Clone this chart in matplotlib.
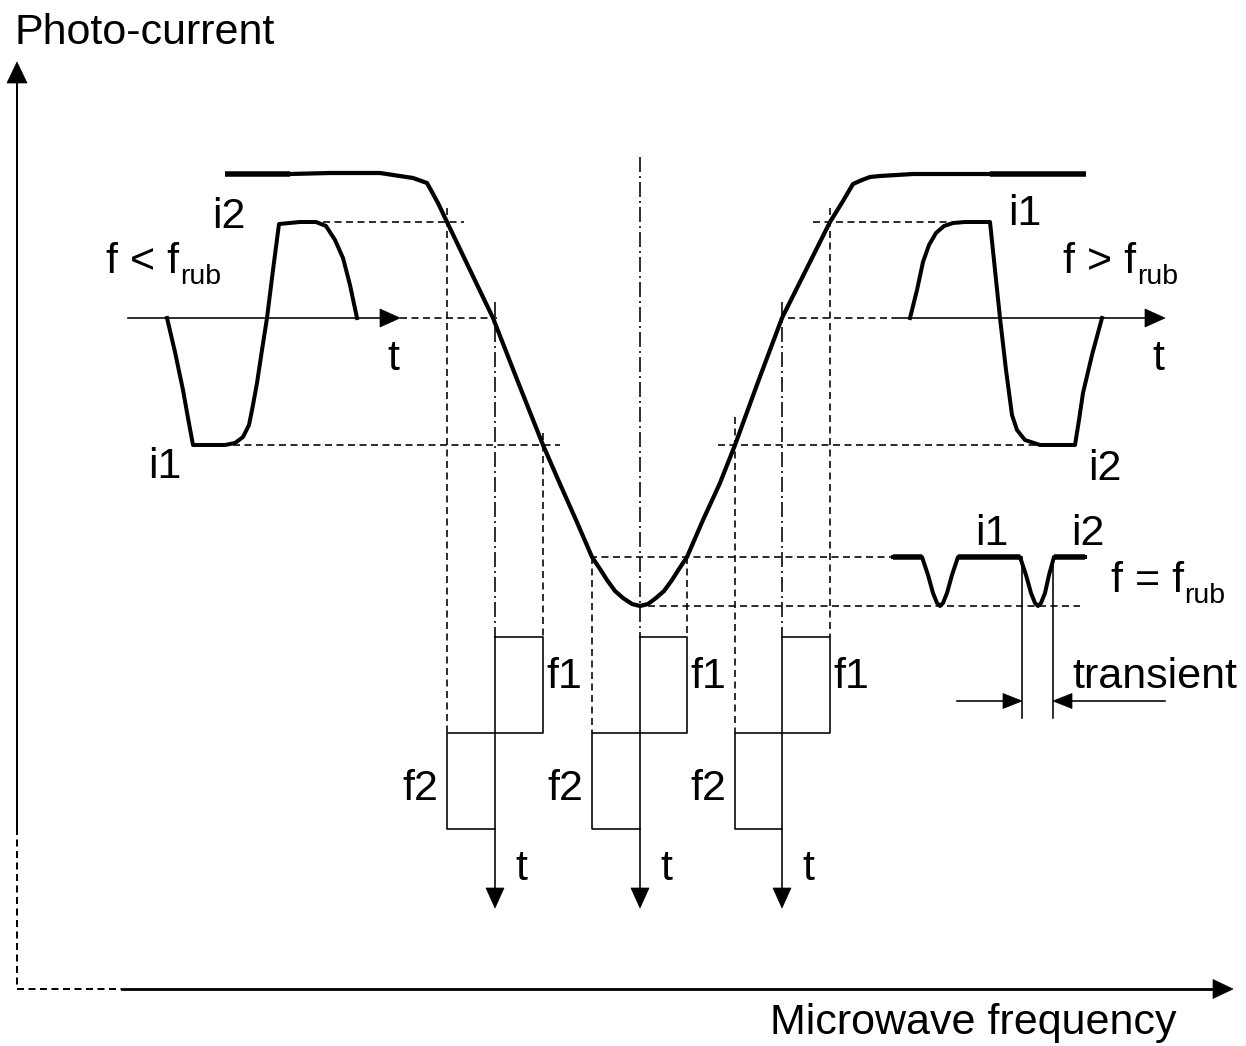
import matplotlib
matplotlib.use("Agg")
import matplotlib.pyplot as plt
from matplotlib.patches import Polygon

plt.rcParams['font.family'] = ['Liberation Sans', 'DejaVu Sans']
plt.rcParams['lines.scale_dashes'] = False

# ---------------- data (diagram units, y grows downward) ----------------
# main photo-current resonance curve
main_curve_x = [290, 330, 380, 413, 427, 438, 447, 470, 493, 518, 543, 560, 576, 592, 600, 607,
                615, 623, 632, 640, 648, 656, 664, 672, 679, 687, 703, 720, 735, 758, 782, 806,
                830, 843, 853, 862, 870, 880, 913, 990]
main_curve_y = [174, 173, 173, 178, 183, 203, 222, 270, 318, 382, 445, 484, 520, 557, 569, 580,
                591, 598, 604, 606, 604, 598, 591, 580, 569, 557, 520, 483, 445, 382, 318, 270,
                222, 201, 184, 180, 177, 176, 174, 174]
plateau_left_x = [225, 290]
plateau_right_x = [990, 1086]
plateau_y = 174

# time signal for f < f_rub
lowwave_x = [167, 175, 183, 188, 193, 225, 235, 243, 249, 253, 257, 262, 267, 273, 279,
             300, 316, 326, 335, 343, 350, 357]
lowwave_y = [318, 352, 390, 418, 445, 445, 443, 437, 425, 405, 383, 350, 318, 270, 224,
             222, 222, 226, 240, 258, 285, 318]
# time signal for f > f_rub
highwave_x = [910, 917, 923, 929, 936, 944, 953, 965, 990, 995, 1000, 1006, 1012, 1017,
              1025, 1040, 1075, 1079, 1083, 1092, 1102]
highwave_y = [318, 290, 262, 245, 233, 226, 223, 222, 222, 270, 318, 370, 415, 430,
              440, 445, 445, 420, 393, 355, 318]
# time signal for f = f_rub
eqwave_x = [893, 922, 928, 933, 937, 940, 943, 947, 952, 958, 1020, 1026, 1031, 1035, 1038,
            1041, 1045, 1049, 1054, 1085]
eqwave_y = [557, 557, 575, 593, 603, 606, 603, 593, 575, 557, 557, 575, 593, 603, 606,
            603, 593, 575, 557, 557]

# levels
level_i2 = 222
level_zero = 318
level_i1 = 445
level_plateau = 557
level_min = 606

# square-wave modulation signals
square_axis_x = [495, 640, 782]
square_low_x = [447, 592, 735]
square_high_x = [543, 687, 830]
square_top, square_mid, square_bottom, square_tip = 637, 733, 829, 908

# dashed guide lines: (x0, x1, y)
hdash = [(323, 464, level_i2), (813, 950, level_i2),
         (400, 497, level_zero), (788, 893, level_zero),
         (233, 560, level_i1), (718, 1040, level_i1),
         (590, 893, level_plateau), (648, 1080, level_min)]
# vertical dashed (x, y0, y1)
vdash = [(447, 208, 733), (543, 433, 637), (592, 557, 733), (687, 557, 637),
         (735, 417, 733), (830, 208, 637)]
vdashdot = [(495, 302, 637), (640, 157, 637), (782, 302, 637)]

# ---------------- figure ----------------
W, H = 1246, 1046
fig = plt.figure(figsize=(W / 100, H / 100), dpi=100)
ax = fig.add_axes([0, 0, 1, 1])
ax.set_xlim(0, W)
ax.set_ylim(H, 0)
ax.axis('off')

K = 'black'
PX = 72 / 100  # points per pixel


def head(tip, direction, length, width):
    tx, ty = tip
    dx, dy = direction
    bx, by = tx - dx * length, ty - dy * length
    px, py = -dy * width / 2, dx * width / 2
    ax.add_patch(Polygon([(tx, ty), (bx + px, by + py), (bx - px, by - py)],
                         closed=True, facecolor=K, edgecolor=K, lw=0.5))


dash = (0, (7 * PX, 4.5 * PX))
dashdot = (0, (15 * PX, 4 * PX, 2 * PX, 4 * PX))
thin = 1.6 * PX

# axes of the diagram
ax.plot([17, 17], [828, 80], color=K, lw=2 * PX)
ax.plot([17, 17], [828, 989], color=K, lw=2 * PX, linestyle=dash)
head((17, 62), (0, -1), 21, 20)
ax.plot([122, 1215], [989, 989], color=K, lw=2.8 * PX)
ax.plot([17, 122], [989, 989], color=K, lw=2 * PX, linestyle=dash)
head((1233, 989), (1, 0), 20, 19)

# guide lines
for x0, x1, y in hdash:
    ax.plot([x0, x1], [y, y], color=K, lw=thin, linestyle=dash)
for x, y0, y1 in vdash:
    ax.plot([x, x], [y0, y1], color=K, lw=thin, linestyle=dash)
for x, y0, y1 in vdashdot:
    ax.plot([x, x], [y0, y1], color=K, lw=thin, linestyle=dashdot)

# main curve
ax.plot(main_curve_x, main_curve_y, color=K, lw=4.2 * PX, solid_joinstyle='round',
        solid_capstyle='butt')
ax.plot(plateau_left_x, [plateau_y] * 2, color=K, lw=5.5 * PX, solid_capstyle='butt')
ax.plot(plateau_right_x, [plateau_y] * 2, color=K, lw=5.5 * PX, solid_capstyle='butt')

# time axes of wave insets
ax.plot([128, 385], [level_zero] * 2, color=K, lw=thin)
head((400, level_zero), (1, 0), 20, 18)
ax.plot([893, 1150], [level_zero] * 2, color=K, lw=thin)
head((1165, level_zero), (1, 0), 20, 18)

ax.plot(lowwave_x, lowwave_y, color=K, lw=4 * PX, solid_joinstyle='round')
ax.plot(highwave_x, highwave_y, color=K, lw=4 * PX, solid_joinstyle='round')
ax.plot(eqwave_x, eqwave_y, color=K, lw=4 * PX, solid_joinstyle='round')
for i0, i1 in [(0, 2), (9, 11), (18, 20)]:
    ax.plot(eqwave_x[i0:i1], eqwave_y[i0:i1], color=K, lw=5.5 * PX, solid_capstyle='butt')

# transient marker
for x in (1022, 1053):
    ax.plot([x, x], [level_plateau, 718], color=K, lw=thin)
ax.plot([957, 1005], [701, 701], color=K, lw=thin)
head((1022, 701), (1, 0), 19, 15)
ax.plot([1070, 1165], [701, 701], color=K, lw=thin)
head((1053, 701), (-1, 0), 19, 15)

# square waves
for xa, xl, xh in zip(square_axis_x, square_low_x, square_high_x):
    ax.plot([xa, xh, xh, xl, xl, xa], [square_top, square_top, square_mid, square_mid,
                                        square_bottom, square_bottom], color=K, lw=thin)
    ax.plot([xa, xa], [square_top, square_tip - 18], color=K, lw=thin)
    head((xa, square_tip), (0, 1), 20, 18)

# ---------------- text ----------------
FS = 31
SUB = 20.5


def txt(x, y, s, size=FS):
    ax.text(x, y, s, fontsize=size, ha='left', va='baseline', color=K)


txt(15, 44, 'Photo-current')
txt(770, 1034, 'Microwave frequency')
txt(212, 228, 'i2')
txt(106, 273, 'f < f')
txt(180, 284, 'rub', SUB)
txt(387, 370, 't')
txt(148, 478, 'i1')
txt(1008, 225, 'i1')
txt(1063, 273, 'f > f')
txt(1137, 284, 'rub', SUB)
txt(1152, 370, 't')
txt(1088, 480, 'i2')
txt(975, 545, 'i1')
txt(1071, 545, 'i2')
txt(1111, 592, 'f = f')
txt(1184, 603, 'rub', SUB)
txt(1072, 688, 'transient')
for xa, xl, xh in zip(square_axis_x, square_low_x, square_high_x):
    txt(xh + 3, 688, 'f1')
    txt(xl - 45, 800, 'f2')
    txt(xa + 20, 880, 't')

fig.savefig('out.png', dpi=100)
